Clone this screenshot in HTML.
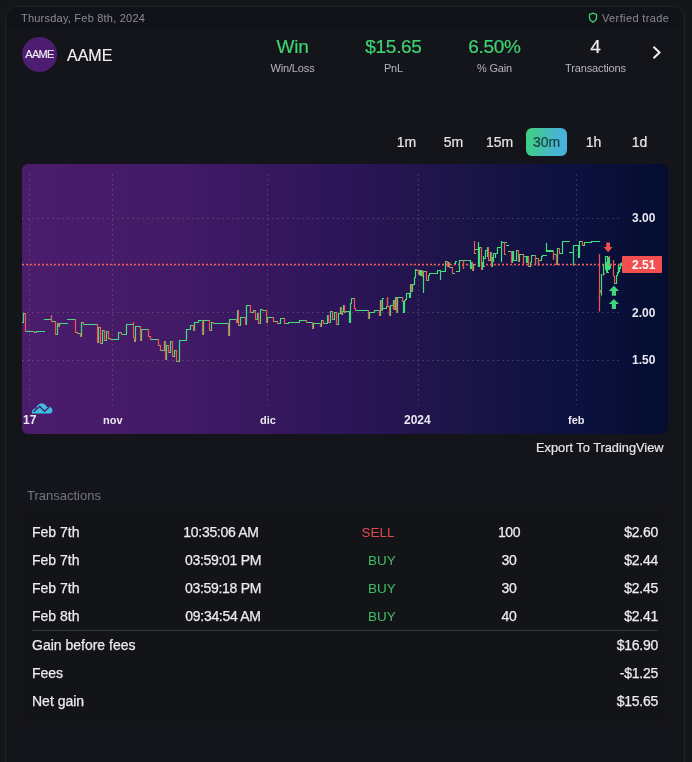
<!DOCTYPE html>
<html><head><meta charset="utf-8">
<style>
*{margin:0;padding:0;box-sizing:border-box}
html,body{width:692px;height:762px;overflow:hidden;background:#15161a;font-family:"Liberation Sans",sans-serif}
.a{position:absolute;white-space:nowrap;will-change:transform}
#card{position:absolute;left:5px;top:6px;width:680px;height:800px;border:1px solid #1b272b;border-radius:12px;background:#14151a;overflow:hidden}
#hdr{position:absolute;left:0;top:0;width:100%;height:22px;background:#121318}
.lbl{font-size:11px;color:#b4b4bc;text-align:center;width:101px;letter-spacing:-0.15px}
.val{font-size:19px;letter-spacing:-0.3px;text-align:center;width:101px;-webkit-text-stroke:0.2px currentColor}
.tf{font-size:14px;color:#e6e6e6;-webkit-text-stroke:0.2px currentColor;text-align:center;width:41px;height:28px;line-height:28px}
.ax{font-size:12px;font-weight:bold;color:#e8e8ee}
.row{font-size:14px;color:#ececef;-webkit-text-stroke:0.25px currentColor}
</style></head><body>
<div id="card"><div id="hdr"></div></div>

<div class="a" style="left:21px;top:12px;font-size:11px;letter-spacing:0.22px;color:#8b8b93">Thursday, Feb 8th, 2024</div>
<svg class="a" style="left:588px;top:12px" width="10" height="11" viewBox="0 0 10 11"><path d="M5 1.1 L8.5 2.4 V5.8 C8.5 7.9 7 9.3 5 10.2 C3 9.3 1.5 7.9 1.5 5.8 V2.4 Z" fill="none" stroke="#3fcf6e" stroke-width="1.3"/></svg>
<div class="a" style="left:602px;top:12px;font-size:11px;letter-spacing:0.38px;color:#8b8b93">Verfied trade</div>

<div class="a" style="left:22px;top:37px;width:35px;height:35px;border-radius:50%;background:#4d1d72"></div>
<div class="a" style="left:22px;top:48px;width:35px;text-align:center;font-size:11px;color:#f0f0f0;letter-spacing:-0.7px;-webkit-text-stroke:0.15px #f0f0f0">AAME</div>
<div class="a" style="left:67px;top:46.5px;font-size:16px;color:#f2f2f2;-webkit-text-stroke:0.15px #f2f2f2">AAME</div>

<div class="a val" style="left:242px;top:36px;color:#3fd36f;font-size:19px">Win</div>
<div class="a lbl" style="left:242px;top:62px">Win/Loss</div>
<div class="a val" style="left:343px;top:35.5px;color:#3fd36f">$15.65</div>
<div class="a lbl" style="left:343px;top:62px">PnL</div>
<div class="a val" style="left:444px;top:35.5px;color:#3fd36f">6.50%</div>
<div class="a lbl" style="left:444px;top:62px">% Gain</div>
<div class="a val" style="left:545px;top:35.5px;color:#ececec">4</div>
<div class="a lbl" style="left:545px;top:62px">Transactions</div>
<svg class="a" style="left:651.3px;top:45px" width="12" height="15" viewBox="0 0 12 15"><path d="M2.5 1.8 L8.5 7.5 L2.5 13.2" fill="none" stroke="#f0f0f0" stroke-width="2"/></svg>

<div class="a tf" style="left:386px;top:128px">1m</div>
<div class="a tf" style="left:432.5px;top:128px">5m</div>
<div class="a tf" style="left:479px;top:128px">15m</div>
<div class="a tf" style="left:526px;top:128px;border-radius:6px;background:linear-gradient(100deg,#3fd17a,#47b3d6 75%);color:#1a4440">30m</div>
<div class="a tf" style="left:572.5px;top:128px">1h</div>
<div class="a tf" style="left:619px;top:128px">1d</div>

<div class="a" style="left:22px;top:164px;width:646px;height:270px;border-radius:6px;overflow:hidden;background:linear-gradient(90deg,#4b1c6c 0%,#421a66 25%,#2c1558 50%,#1a1445 70%,#0c1140 85%,#050d30 100%)"></div>
<svg class="a" style="left:0;top:0" width="692" height="762" viewBox="0 0 692 762">
<g stroke="#858a85" stroke-opacity="0.32" stroke-width="1" stroke-dasharray="2 3" fill="none">
<path d="M22 218.5H622M22 265.5H622M22 312.5H622M22 360.5H622"/>
<path d="M29.5 174V405M112.5 174V405M267.5 174V405M418.5 174V405M576.5 174V405"/>
</g>
<path d="M22 264.5H622" stroke="#f55a5a" stroke-width="1.35" stroke-dasharray="2 2" fill="none"/>
<path d="M22.0 322.5H24.0M23.5 322.0V314.0M23.0 313.5H26.0M25.0 331.5H35.0M34.0 332.5H37.0M36.5 332.0V332.0M36.0 331.5H45.0M44.0 319.5H52.0M51.5 319.0V316.0M51.0 321.5H56.0M55.0 334.5H58.0M57.5 334.0V324.0M57.0 323.5H59.0M58.0 326.5H60.0M59.5 326.0V324.0M59.0 323.5H68.0M67.0 319.5H76.0M75.0 332.5H78.0M77.0 333.5H81.0M80.0 336.5H82.0M81.5 336.0V323.0M81.0 322.5H84.0M83.0 324.5H98.0M97.0 342.5H99.0M98.5 342.0V328.0M98.0 327.5H101.0M100.0 343.5H103.0M102.5 343.0V331.0M102.0 330.5H105.0M104.0 340.5H107.0M106.5 340.0V332.0M106.0 331.5H109.0M108.0 338.5H111.0M110.0 339.5H119.0M118.5 339.0V333.0M118.0 332.5H122.0M121.0 334.5H127.0M126.5 334.0V325.0M126.0 324.5H134.0M133.5 324.0V323.0M133.0 337.5H135.0M134.0 341.5H136.0M135.5 341.0V327.0M135.0 326.5H141.0M140.0 340.5H142.0M141.5 340.0V330.0M141.0 329.5H149.0M148.0 336.5H151.0M150.0 339.5H159.0M158.0 345.5H161.0M160.0 350.5H165.0M164.5 350.0V342.0M164.0 341.5H166.0M165.0 359.5H167.0M166.5 359.0V346.0M166.0 345.5H169.0M168.0 352.5H171.0M170.5 352.0V342.0M170.0 341.5H173.0M172.0 356.5H175.0M174.5 356.0V351.0M174.0 350.5H177.0M176.0 361.5H179.0M178.5 361.0V362.0M178.0 361.5H180.0M179.5 361.0V341.0M179.0 340.5H187.0M186.5 340.0V330.0M186.0 329.5H191.0M190.5 329.0V326.0M190.0 325.5H194.0M193.0 330.5H195.0M194.5 330.0V323.0M194.0 322.5H199.0M198.5 322.0V321.0M198.0 320.5H203.0M202.0 334.5H204.0M203.5 334.0V321.0M203.0 320.5H210.0M209.0 330.5H212.0M211.5 330.0V323.0M211.0 322.5H214.0M213.0 323.5H229.0M228.0 335.5H230.0M229.5 335.0V320.0M229.0 319.5H237.0M236.0 322.5H238.0M237.5 322.0V311.0M237.0 310.5H239.0M238.0 325.5H241.0M240.5 325.0V318.0M240.0 317.5H246.0M245.0 324.5H247.0M246.5 324.0V306.0M246.0 305.5H251.0M250.0 312.5H254.0M253.5 312.0V311.0M253.0 310.5H256.0M255.0 319.5H258.0M257.5 319.0V314.0M257.0 313.5H259.0M258.0 323.5H261.0M260.5 323.0V310.0M260.0 309.5H263.0M262.0 310.5H267.0M266.0 322.5H268.0M267.5 322.0V318.0M267.0 317.5H274.0M273.0 321.5H278.0M277.0 323.5H281.0M280.5 323.0V319.0M280.0 318.5H285.0M284.0 323.5H289.0M288.5 323.0V323.0M288.0 322.5H300.0M299.5 322.0V321.0M299.0 320.5H307.0M306.0 322.5H313.0M312.0 328.5H314.0M313.5 328.0V324.0M313.0 323.5H321.0M320.0 326.5H322.0M321.5 326.0V321.0M321.0 320.5H324.0M323.0 323.5H328.0M327.5 323.0V316.0M327.0 315.5H329.0M328.0 322.5H331.0M330.5 322.0V312.0M330.0 311.5H333.0M332.0 319.5H335.0M334.5 319.0V313.0M334.0 312.5H337.0M336.0 324.5H339.0M338.5 324.0V314.0M338.0 313.5H341.0M340.5 313.0V308.0M340.0 307.5H342.0M341.0 314.5H343.0M342.5 314.0V312.0M342.0 311.5H344.0M343.5 311.0V306.0M343.0 305.5H345.0M344.0 312.5H346.0M345.5 312.0V312.0M345.0 311.5H350.0M349.5 311.0V323.0M349.0 322.5H351.0M350.5 322.0V304.0M350.0 303.5H352.0M351.5 303.0V299.0M351.0 298.5H354.0M353.5 298.0V299.0M353.0 298.5H355.0M354.0 308.5H356.0M355.0 310.5H369.0M368.0 318.5H370.0M369.5 318.0V313.0M369.0 312.5H375.0M374.5 312.0V311.0M374.0 310.5H380.0M379.0 315.5H381.0M380.5 315.0V301.0M380.0 300.5H382.0M381.0 310.5H383.0M382.5 310.0V299.0M382.0 298.5H384.0M383.0 308.5H387.0M386.5 308.0V307.0M386.0 306.5H388.0M387.5 306.0V298.0M387.0 306.5H390.0M389.0 315.5H391.0M390.5 315.0V306.0M390.0 305.5H394.0M393.5 309.0V301.0M393.0 300.5H395.0M394.0 309.5H396.0M395.5 309.0V298.0M395.0 297.5H397.0M396.0 312.5H398.0M397.5 312.0V298.0M397.0 297.5H403.0M402.0 301.5H404.0M403.5 301.0V313.0M403.0 312.5H405.0M404.5 312.0V301.0M404.0 300.5H406.0M405.5 300.0V300.0M405.0 299.5H407.0M406.5 299.0V294.0M406.0 293.5H410.0M409.5 293.0V298.0M409.0 297.5H411.0M410.5 297.0V285.0M410.0 284.5H412.0M411.0 291.5H413.0M412.5 291.0V285.0M412.0 284.5H415.0M414.5 284.0V278.0M414.0 277.5H416.0M415.5 277.0V270.0M415.0 269.5H417.0M416.0 270.5H419.0M418.0 274.5H420.0M419.5 274.0V271.0M419.0 270.5H421.0M420.5 270.0V276.0M420.0 275.5H422.0M421.5 275.0V271.0M421.0 270.5H423.0M422.0 276.5H424.0M423.5 276.0V293.0M423.5 292.0V272.0M423.0 271.5H427.0M426.0 280.5H429.0M428.5 280.0V276.0M428.0 275.5H430.0M429.5 275.0V274.0M429.0 273.5H438.0M437.5 273.0V271.0M437.0 270.5H439.0M438.5 270.0V271.0M438.0 270.5H441.0M440.5 270.0V280.0M440.5 279.0V272.0M440.0 271.5H446.0M445.5 271.0V262.0M445.0 261.5H448.0M447.0 266.5H449.0M448.5 266.0V263.0M448.0 262.5H450.0M449.0 267.5H453.0M452.0 273.5H455.0M454.0 263.5H456.0M455.5 263.0V262.0M455.0 261.5H457.0M456.0 271.5H460.0M459.5 271.0V261.0M459.0 260.5H464.0M463.5 268.0V261.0M463.0 260.5H468.0M467.0 260.5H471.0M470.5 260.0V269.0M470.0 268.5H472.0M471.5 268.0V263.0M471.0 262.5H473.0M472.0 270.5H474.0M473.5 270.0V265.0M473.0 264.5H475.0M474.0 253.5H476.0M475.0 249.5H479.0M478.5 249.0V243.0M478.5 242.0V267.0M478.0 266.5H480.0M479.5 266.0V248.0M479.0 247.5H482.0M481.0 269.5H483.0M482.5 269.0V263.0M482.0 262.5H484.0M483.5 262.0V257.0M483.5 256.0V267.0M483.0 266.5H485.0M484.0 258.5H486.0M485.5 258.0V251.0M485.0 250.5H488.0M487.5 250.0V248.0M487.5 247.0V257.0M487.0 256.5H489.0M488.0 260.5H491.0M490.5 260.0V253.0M490.0 252.5H492.0M491.0 266.5H493.0M492.5 266.0V258.0M492.0 257.5H494.0M493.5 262.0V254.0M493.0 253.5H496.0M495.5 253.0V254.0M495.5 253.0V258.0M495.5 257.0V254.0M495.0 253.5H498.0M497.5 253.0V248.0M497.0 247.5H500.0M499.5 247.0V248.0M499.0 247.5H502.0M501.5 241.0V262.0M501.5 261.0V243.0M501.0 242.5H505.0M504.0 254.5H506.0M505.0 242.5H507.0M506.0 245.5H509.0M508.0 251.5H512.0M511.0 262.5H513.0M512.5 262.0V252.0M512.0 251.5H514.0M513.5 251.0V261.0M513.0 260.5H517.0M516.5 260.0V251.0M516.0 250.5H519.0M518.0 261.5H520.0M519.5 261.0V255.0M519.0 254.5H524.0M523.5 263.0V257.0M523.0 256.5H527.0M526.5 256.0V263.0M526.0 262.5H528.0M527.5 262.0V257.0M527.0 256.5H529.0M528.0 266.5H531.0M530.5 266.0V263.0M530.0 262.5H532.0M531.5 262.0V256.0M531.0 255.5H536.0M535.5 264.0V259.0M535.0 258.5H539.0M538.5 265.0V261.0M538.0 260.5H542.0M541.5 260.0V257.0M541.0 256.5H543.0M542.0 255.5H547.0M546.5 243.0V252.0M546.0 251.5H554.0M553.5 259.0V255.0M553.0 254.5H557.0M556.0 264.5H558.0M557.5 264.0V249.0M557.0 248.5H560.0M559.0 253.5H563.0M562.5 253.0V242.0M562.0 241.5H565.0M564.5 241.0V242.0M564.0 241.5H570.0M569.0 252.5H574.0M573.5 252.0V246.0M573.0 245.5H579.0M578.5 245.0V246.0M578.5 245.0V258.0M578.0 257.5H580.0M579.5 257.0V242.0M579.0 241.5H583.0M582.0 245.5H585.0M584.5 245.0V243.0M584.0 242.5H592.0M591.5 242.0V242.0M591.0 241.5H600.0M599.5 241.0V242.0M573.5 245V265.5M578 257.5H579.6M546.5 250.5H553.3M599.5 294V300.5M601.5 274V295.5M603.5 264V275.5M605.5 256V270M605 256.5H608M607.5 256V273M606 272.5H609M606.5 262V272M608.5 257V270M609.5 259V270M610.5 265V268.5M614 283.5H617M616.5 275V283.5M617.5 272V276M618.5 264V273.5M619.5 267V272M620.5 263V269M621.5 262.5V266" stroke="#3fe07c" stroke-width="1.2" fill="none"/>
<path d="M25.5 313.0V332.0M34.5 331.0V333.0M51.5 315.0V322.0M55.5 321.0V335.0M58.5 323.0V327.0M75.5 319.0V333.0M77.5 332.0V334.0M80.5 333.0V337.0M83.5 322.0V325.0M97.5 324.0V343.0M100.5 327.0V344.0M104.5 330.0V341.0M108.5 331.0V339.0M110.5 338.0V340.0M121.5 332.0V335.0M133.5 322.0V338.0M134.5 337.0V342.0M140.5 326.0V341.0M148.5 329.0V337.0M150.5 336.0V340.0M158.5 339.0V346.0M160.5 345.0V351.0M165.5 341.0V360.0M168.5 345.0V353.0M172.5 341.0V357.0M176.5 350.0V362.0M193.5 325.0V331.0M202.5 320.0V335.0M209.5 320.0V331.0M213.5 322.0V324.0M228.5 323.0V336.0M236.5 319.0V323.0M238.5 310.0V326.0M245.5 317.0V325.0M250.5 305.0V313.0M255.5 310.0V320.0M258.5 313.0V324.0M262.5 309.0V311.0M266.5 310.0V323.0M273.5 317.0V322.0M277.5 321.0V324.0M284.5 318.0V324.0M306.5 320.0V323.0M312.5 322.0V329.0M320.5 323.0V327.0M323.5 320.0V324.0M328.5 315.0V323.0M332.5 311.0V320.0M336.5 312.0V325.0M341.5 307.0V315.0M344.5 305.0V313.0M354.5 298.0V309.0M355.5 308.0V311.0M368.5 310.0V319.0M379.5 310.0V316.0M381.5 300.0V311.0M387.5 297.0V307.0M389.5 306.0V316.0M393.5 305.0V310.0M394.5 300.0V310.0M396.5 297.0V313.0M402.5 297.0V302.0M411.5 284.0V292.0M416.5 269.0V271.0M418.5 270.0V275.0M422.5 270.0V277.0M426.5 271.0V281.0M447.5 261.0V267.0M449.5 262.0V268.0M452.5 267.0V274.0M463.5 260.0V269.0M467.5 260.0V261.0M472.5 262.0V271.0M474.5 241.0V254.0M481.5 247.0V270.0M488.5 247.0V261.0M491.5 252.0V267.0M504.5 242.0V255.0M511.5 251.0V263.0M518.5 250.0V262.0M523.5 254.0V264.0M528.5 256.0V267.0M535.5 255.0V265.0M538.5 258.0V266.0M553.5 251.0V260.0M556.5 254.0V265.0M559.5 248.0V254.0M582.5 241.0V246.0M599.5 254V311.5M600.5 290V293M603 264.5H604.5M604.5 273V274.5M609.5 256V259M609 264.5H611M613.5 260V276.5M614.5 276V283.5M618 264.5H620" stroke="#f5544e" stroke-width="1.2" fill="none"/>
<path d="M606.2 242.5H610V247H612.6L608.1 252.3L603.6 247H606.2Z" fill="#f44f50"/>
<path d="M611.8 295.8V291H608.8L613.9 285.8L619 291H616V295.8Z" fill="#44d47e"/>
<path d="M611.8 309V304H608.8L613.9 299L619 304H616V309Z" fill="#44d47e"/>
<rect x="622" y="256" width="40" height="17" rx="1" fill="#f44f50"/>
<path d="M32 413.6C31.5 410.5 33.5 408.2 36 408.6C37 405 39.8 402.8 42.5 403.4C45 404 46.5 405.6 46.8 407.2C49.3 405.8 52.6 407.6 52.4 410.6C52.3 412.6 51.4 413.6 50 413.6Z" fill="#3cc0e2"/>
<path d="M33.6 411.7L39.7 406.5L44.5 411.2L49.3 407" stroke="#4a1c6c" stroke-width="1.4" fill="none"/>
</svg>
<div class="a ax" style="left:632px;top:211px">3.00</div>
<div class="a ax" style="left:632px;top:257.5px;color:#fff">2.51</div>
<div class="a ax" style="left:632px;top:306px">2.00</div>
<div class="a ax" style="left:632px;top:353px">1.50</div>
<div class="a ax" style="left:23px;top:413px">17</div>
<div class="a ax" style="left:102.5px;top:413.7px;font-size:11px">nov</div>
<div class="a ax" style="left:259.5px;top:413.7px;font-size:11px">dic</div>
<div class="a ax" style="left:404px;top:413px">2024</div>
<div class="a ax" style="left:567.5px;top:413.7px;font-size:11px">feb</div>

<div class="a" style="left:536px;top:439.5px;font-size:12.8px;color:#e6e6ea;-webkit-text-stroke:0.2px #e6e6ea">Export To TradingView</div>

<div class="a" style="left:22px;top:508px;width:645px;height:216px;border-radius:8px;background:#131418"></div>
<div class="a" style="left:27px;top:488px;font-size:13px;color:#75757e">Transactions</div>

<div class="a row" style="left:32px;top:524px">Feb 7th</div>
<div class="a row" style="left:32px;top:552px">Feb 7th</div>
<div class="a row" style="left:32px;top:580px">Feb 7th</div>
<div class="a row" style="left:32px;top:608px">Feb 8th</div>
<div class="a row" style="left:150px;width:142px;text-align:center;letter-spacing:-0.3px;top:524px">10:35:06 AM</div>
<div class="a row" style="left:152px;width:142px;text-align:center;letter-spacing:-0.3px;top:552px">03:59:01 PM</div>
<div class="a row" style="left:152px;width:142px;text-align:center;letter-spacing:-0.3px;top:580px">03:59:18 PM</div>
<div class="a row" style="left:152px;width:142px;text-align:center;letter-spacing:-0.3px;top:608px">09:34:54 AM</div>
<div class="a row" style="left:338px;width:80px;text-align:center;top:524.5px;color:#e0474f;font-size:13.5px;-webkit-text-stroke:0">SELL</div>
<div class="a row" style="left:341.5px;width:80px;text-align:center;top:552.5px;color:#3fbf67;font-size:13.5px;-webkit-text-stroke:0">BUY</div>
<div class="a row" style="left:341.5px;width:80px;text-align:center;top:580.5px;color:#3fbf67;font-size:13.5px;-webkit-text-stroke:0">BUY</div>
<div class="a row" style="left:341.5px;width:80px;text-align:center;top:608.5px;color:#3fbf67;font-size:13.5px;-webkit-text-stroke:0">BUY</div>
<div class="a row" style="left:469px;width:80px;text-align:center;letter-spacing:-0.4px;top:524px">100</div>
<div class="a row" style="left:469px;width:80px;text-align:center;letter-spacing:-0.4px;top:552px">30</div>
<div class="a row" style="left:469px;width:80px;text-align:center;letter-spacing:-0.4px;top:580px">30</div>
<div class="a row" style="left:469px;width:80px;text-align:center;letter-spacing:-0.4px;top:608px">40</div>
<div class="a row" style="left:558px;width:100px;text-align:right;letter-spacing:-0.25px;top:524px">$2.60</div>
<div class="a row" style="left:558px;width:100px;text-align:right;letter-spacing:-0.25px;top:552px">$2.44</div>
<div class="a row" style="left:558px;width:100px;text-align:right;letter-spacing:-0.25px;top:580px">$2.45</div>
<div class="a row" style="left:558px;width:100px;text-align:right;letter-spacing:-0.25px;top:608px">$2.41</div>
<div class="a" style="left:32px;top:630px;width:626px;height:1px;background:#34353c"></div>
<div class="a row" style="left:32px;top:637px">Gain before fees</div>
<div class="a row" style="left:32px;top:665px">Fees</div>
<div class="a row" style="left:32px;top:693px">Net gain</div>
<div class="a row" style="left:558px;width:100px;text-align:right;letter-spacing:-0.25px;top:637px">$16.90</div>
<div class="a row" style="left:558px;width:100px;text-align:right;letter-spacing:-0.25px;top:665px">-$1.25</div>
<div class="a row" style="left:558px;width:100px;text-align:right;letter-spacing:-0.25px;top:693px">$15.65</div>
</body></html>
